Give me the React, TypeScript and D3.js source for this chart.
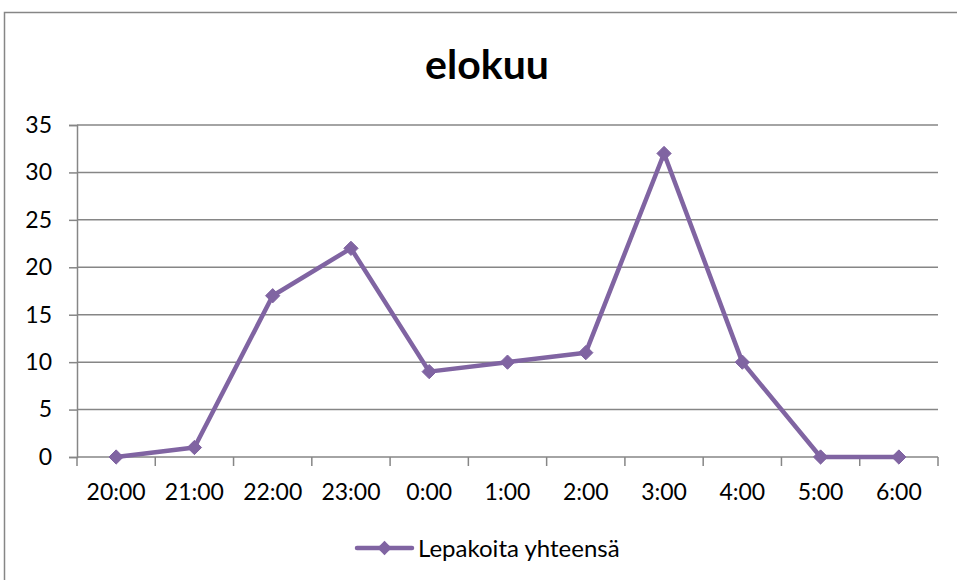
import React, { useRef, useEffect } from "react";
import * as d3 from "d3";

const hours = ["20:00", "21:00", "22:00", "23:00", "0:00", "1:00", "2:00", "3:00", "4:00", "5:00", "6:00"];
const bats = [0, 1, 17, 22, 9, 10, 11, 32, 10, 0, 0];
const yTicks = [0, 5, 10, 15, 20, 25, 30, 35];
const seriesName = "Lepakoita yhteensä";
const title = "elokuu";

const App = () => {
  const ref = useRef<SVGSVGElement>(null);
  const width = 957,
    height = 580,
    left = 77,
    right = 938,
    top = 125,
    bottom = 457;
  const purple = "#8064a2";
  const grid = "#868686";
  const font = "Lato, 'Open Sans', sans-serif";

  useEffect(() => {
    if (!ref.current) return;
    const svg = d3.select(ref.current);
    svg.selectAll("*").remove();

    const x = d3.scaleBand().domain(hours).range([left, right]);
    const y = d3.scaleLinear().domain([0, 35]).range([bottom, top]);

    // chart frame
    svg
      .append("rect")
      .attr("x", 4.5)
      .attr("y", 12.5)
      .attr("width", 1000)
      .attr("height", 1000)
      .attr("fill", "#fff")
      .attr("stroke", grid)
      .attr("stroke-width", 1.5);

    svg
      .append("text")
      .attr("x", 487)
      .attr("y", 79)
      .attr("text-anchor", "middle")
      .attr("font-family", font)
      .attr("font-weight", "bold")
      .attr("font-size", 41)
      .text(title);

    // y axis + gridlines
    const yAxis = svg
      .append("g")
      .attr("transform", `translate(${left},0)`)
      .call(d3.axisLeft(y).tickValues(yTicks).tickSize(8).tickPadding(17));
    yAxis.select(".domain").attr("stroke", grid).attr("stroke-width", 1.5);
    yAxis.selectAll(".tick line").attr("stroke", grid).attr("stroke-width", 1.5);
    yAxis
      .selectAll(".tick text")
      .attr("font-family", font)
      .attr("font-size", 23)
      .attr("fill", "#000");

    svg
      .append("g")
      .selectAll("line")
      .data(yTicks.filter((d) => d > 0))
      .join("line")
      .attr("x1", left)
      .attr("x2", right)
      .attr("y1", (d) => y(d))
      .attr("y2", (d) => y(d))
      .attr("stroke", grid)
      .attr("stroke-width", 1.5);

    // x axis, ticks between categories
    const xg = svg.append("g").attr("transform", `translate(0,${bottom})`);
    xg.append("line")
      .attr("x1", left)
      .attr("x2", right)
      .attr("stroke", grid)
      .attr("stroke-width", 1.5);
    const bounds = hours.map((h) => x(h)!).concat([right]);
    xg.selectAll("line.tk")
      .data(bounds)
      .join("line")
      .attr("class", "tk")
      .attr("x1", (d) => d)
      .attr("x2", (d) => d)
      .attr("y1", 0)
      .attr("y2", 9)
      .attr("stroke", grid)
      .attr("stroke-width", 1.5);
    xg.selectAll("text")
      .data(hours)
      .join("text")
      .attr("x", (d) => x(d)! + x.bandwidth() / 2)
      .attr("y", 43)
      .attr("text-anchor", "middle")
      .attr("font-family", font)
      .attr("font-size", 23)
      .text((d) => d);

    // series
    const line = d3
      .line<number>()
      .x((_, i) => x(hours[i])! + x.bandwidth() / 2)
      .y((d) => y(d));
    svg
      .append("path")
      .datum(bats)
      .attr("d", line)
      .attr("fill", "none")
      .attr("stroke", purple)
      .attr("stroke-width", 4.5)
      .attr("stroke-linejoin", "round");

    const diamond = d3.symbol().type(d3.symbolDiamond2).size(130);
    svg
      .append("g")
      .selectAll("path")
      .data(bats)
      .join("path")
      .attr("d", diamond)
      .attr("transform", (d, i) => `translate(${x(hours[i])! + x.bandwidth() / 2},${y(d)})`)
      .attr("fill", purple)
      .attr("stroke", purple)
      .attr("stroke-width", 1);

    // legend
    const lg = svg.append("g").attr("transform", "translate(357,548)");
    lg.append("line")
      .attr("x1", 0)
      .attr("x2", 55)
      .attr("stroke", purple)
      .attr("stroke-width", 4.5)
      .attr("stroke-linecap", "round");
    lg.append("path")
      .attr("d", diamond)
      .attr("transform", "translate(27.5,0)")
      .attr("fill", purple);
    lg.append("text")
      .attr("x", 61)
      .attr("y", 9)
      .attr("font-family", font)
      .attr("font-size", 24)
      .text(seriesName);
  }, []);

  return (
    <svg
      ref={ref}
      width={width}
      height={height}
      style={{ position: "absolute", left: 0, top: 0, background: "#fff" }}
    ></svg>
  );
};

export default App;
